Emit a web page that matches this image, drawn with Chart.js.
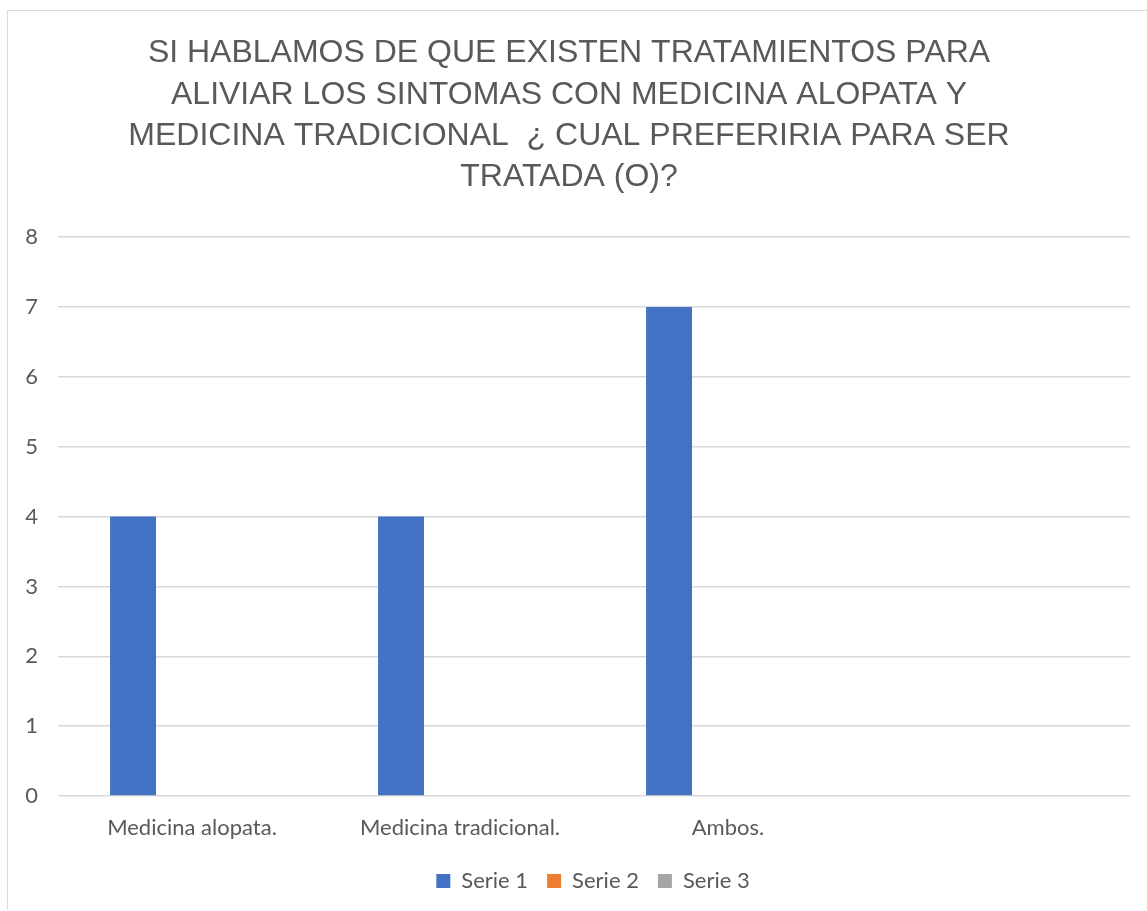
<!DOCTYPE html>
<html>
<head>
<meta charset="utf-8">
<script src="https://cdn.jsdelivr.net/npm/chart.js@4"></script>
<style>
  html, body { margin: 0; padding: 0; background: #fff; }
  #caja {
    position: absolute; left: 7px; top: 10px;
    width: 1139px; height: 899px;
    border: 1px solid #d9d9d9; border-right: none; border-bottom: none;
  }
</style>
</head>
<body>
<div id="caja"><canvas id="chartPreferencia"></canvas></div>
<script>
// ==================== DATOS ====================
const categorias = ['Medicina alopata.', 'Medicina tradicional.', 'Ambos.', ''];
const serie1 = [4, 4, 7, null];
const serie2 = [null, null, null, null];
const serie3 = [null, null, null, null];
const tituloLineas = [
  'SI HABLAMOS DE QUE EXISTEN TRATAMIENTOS PARA',
  'ALIVIAR LOS SINTOMAS CON MEDICINA ALOPATA Y',
  'MEDICINA TRADICIONAL  \u00bf CUAL PREFERIRIA PARA SER',
  'TRATADA (O)?'
];

// leyenda un poco corrida a la derecha, como en el original
const moverLeyenda = {
  id: 'moverLeyenda',
  afterLayout(chart) {
    chart.legend.left += 24;
    chart.legend.right += 24;
  }
};

// ==================== GRAFICO ====================
const cxPref = document.getElementById('chartPreferencia');
const chtPref = new Chart(cxPref, {
  type: 'bar',
  data: {
    labels: categorias,
    datasets: [
      { label: 'Serie 1', data: serie1, backgroundColor: '#4472C4' },
      { label: 'Serie 2', data: serie2, backgroundColor: '#ED7D31' },
      { label: 'Serie 3', data: serie3, backgroundColor: '#A5A5A5' },
    ]
  },
  plugins: [moverLeyenda],
  options: {
    responsive: true,
    maintainAspectRatio: false,
    animation: false,
    categoryPercentage: 0.66,
    barPercentage: 0.78,
    layout: { padding: { top: 22, right: 17, bottom: 8, left: 0 } },
    scales: {
      y: {
        min: 0,
        max: 8,
        ticks: { stepSize: 1, padding: 20, color: '#595959', font: { family: 'Lato', size: 22 } },
        grid: { color: '#d9d9d9', lineWidth: 1.5, drawTicks: false },
        border: { display: false },
        afterFit: (scale) => { scale.width = 50; },
      },
      x: {
        ticks: { padding: 11, color: '#595959', maxRotation: 0, font: { family: 'Lato', size: 22 } },
        grid: { display: false },
        border: { display: false },
        afterFit: (scale) => { scale.height = 55; },
      },
    },
    plugins: {
      title: {
        display: true,
        text: tituloLineas,
        color: '#595959',
        font: { family: 'Liberation Sans', size: 32, weight: 'normal', lineHeight: 1.29 },
        padding: { top: 0, bottom: 39 },
      },
      legend: {
        position: 'bottom',
        labels: {
          boxWidth: 14,
          boxHeight: 14,
          padding: 19,
          color: '#595959',
          font: { family: 'Lato', size: 22 },
        },
      },
      tooltip: { enabled: false },
    },
  }
});
</script>
</body>
</html>
